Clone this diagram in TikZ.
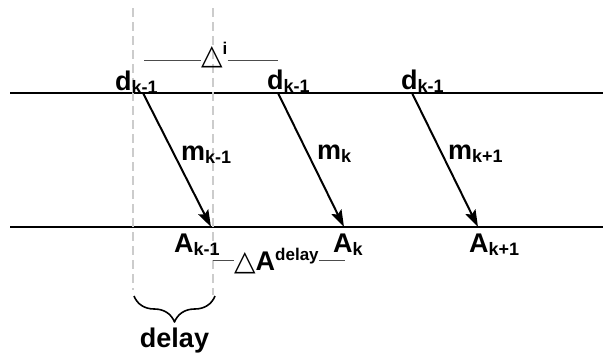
\documentclass[tikz,border=0pt]{standalone}
\usepackage{fontspec}
\setmainfont{Liberation Sans}
\newfontfamily\trifont{DejaVu Sans}
\usetikzlibrary{arrows.meta,decorations.pathreplacing}
\newcommand{\lowsub}[1]{\raisebox{-3pt}{\fontsize{18}{21}\selectfont #1}}
\newcommand{\highsup}[1]{\raisebox{10pt}{\fontsize{17}{20}\selectfont #1}}
\newcommand{\tri}{{\trifont\fontsize{28}{32}\selectfont △}}
\tikzset{lbl/.style={font=\fontsize{27}{32}\selectfont\bfseries,inner sep=0pt,anchor=base west},
  msg/.style={line width=2pt,-{Stealth[length=17pt,width=11pt,inset=3pt]}},
  guide/.style={gray!40,line width=1.5pt,dash pattern=on 9pt off 5pt},
  span/.style={gray!60!black,line width=0.9pt},
  axis/.style={line width=1.1pt}}

\begin{document}
\begin{tikzpicture}[x=1pt,y=-1pt,line join=round]
\useasboundingbox (0,0) rectangle (603,356);
% --- time axes
\draw[axis] (10,93) -- (603,93);
\draw[axis] (10,227) -- (603,227);
% --- delay guides
\draw[guide] (133,8) -- (133,290);
\draw[guide] (213,8) -- (213,295);
% --- departures
\node[lbl] (d1) at (115,90) {d\lowsub{k-1}};
\node[lbl] (d2) at (267,89) {d\lowsub{k-1}};
\node[lbl] (d3) at (401,89) {d\lowsub{k-1}};
% --- messages
\coordinate (s1) at (143,93); \coordinate (e1) at (211,227);
\coordinate (s2) at (278,93); \coordinate (e2) at (344,227);
\coordinate (s3) at (412,93); \coordinate (e3) at (478,227);
\draw[msg] (s1) -- (e1);
\draw[msg] (s2) -- (e2);
\draw[msg] (s3) -- (e3);
\node[lbl] (m1) at (181,160) {m\lowsub{k-1}};
\node[lbl] (m2) at (317,159) {m\lowsub{k}};
\node[lbl] (m3) at (448,159) {m\lowsub{k+1}};
% --- arrivals
\node[lbl] (a1) at (174,252) {A\lowsub{k-1}};
\node[lbl] (a2) at (333,252) {A\lowsub{k}};
\node[lbl] (a3) at (469,252) {A\lowsub{k+1}};
% --- interval markers
\node[lbl] (di) at (201,64) {\tri\highsup{i}};
\coordinate (di1) at (144,60); \coordinate (di2) at (278,60);
\draw[span] (di1) -- (di1 -| di.west);
\draw[span] (di.east |- di2) -- (di2);
\node[lbl] (dA) at (234,270) {\tri A\highsup{delay}};
\coordinate (da1) at (213,260); \coordinate (da2) at (345,260);
\draw[span] (da1) -- (da1 -| dA.west);
\draw[span] (dA.east |- da2) -- (da2);
% --- delay brace
\coordinate (b1) at (134,296); \coordinate (b2) at (215,296);
\draw[line width=1.6pt,decorate,decoration={brace,mirror,amplitude=26pt}] (b1) -- (b2);
\node[lbl,anchor=base] (dl) at (174.5,347) {delay};
\end{tikzpicture}
\end{document}
